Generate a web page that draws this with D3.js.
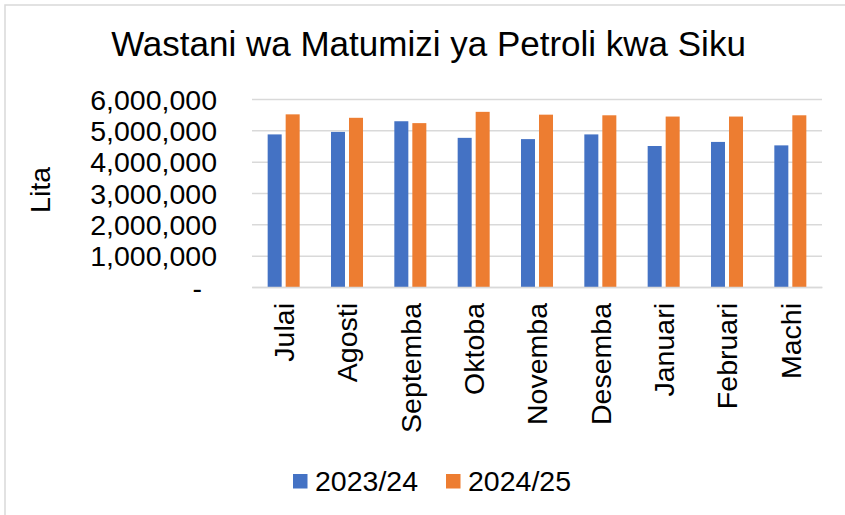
<!DOCTYPE html>
<html>
<head>
<meta charset="utf-8">
<script src="https://cdn.jsdelivr.net/npm/d3@7"></script>
<style>
  body { margin: 0; background: #fff; }
  svg { display: block; font-family: "Liberation Sans", Arial, sans-serif; }
</style>
</head>
<body>
<svg id="chart"></svg>
<script>
// data
var months = ["Julai", "Agosti", "Septemba", "Oktoba", "Novemba", "Desemba", "Januari", "Februari", "Machi"];
var seriesNames = ["2023/24", "2024/25"];
var values2023 = [4870000, 4950000, 5290000, 4760000, 4720000, 4870000, 4500000, 4630000, 4520000];
var values2024 = [5510000, 5400000, 5230000, 5590000, 5500000, 5480000, 5440000, 5440000, 5480000];
var yTicks = [0, 1000000, 2000000, 3000000, 4000000, 5000000, 6000000];

var colors = {"2023/24": "#4472C4", "2024/25": "#ED7D31"};

var width = 845, height = 515;
var plot = {left: 252, right: 822, top: 99, bottom: 287};

var svg = d3.select("#chart")
    .attr("width", width)
    .attr("height", height);

// chart area border (left + top, rest runs off the picture)
svg.append("path")
    .attr("d", "M5,515 L5,5 L845,5")
    .attr("fill", "none")
    .attr("stroke", "#d9d9d9")
    .attr("stroke-width", 1.5);

var x0 = d3.scaleBand()
    .domain(months)
    .range([plot.left, plot.right])
    .padding(0);

var x1 = d3.scaleBand()
    .domain(seriesNames)
    .range([0, x0.bandwidth()])
    .paddingInner(0.222)
    .paddingOuter(0.87);

var y = d3.scaleLinear()
    .domain([0, 6000000])
    .range([plot.bottom, plot.top]);

// title
svg.append("text")
    .attr("x", 428.5)
    .attr("y", 56)
    .attr("text-anchor", "middle")
    .attr("font-size", "35px")
    .attr("fill", "#000")
    .text("Wastani wa Matumizi ya Petroli kwa Siku");

// gridlines
var yAxis = d3.axisLeft(y)
    .tickValues(yTicks)
    .tickSize(-(plot.right - plot.left))
    .tickPadding(35)
    .tickFormat(function (d) {
        return d === 0 ? "-" : d3.format(",")(d);
    });

var gy = svg.append("g")
    .attr("transform", "translate(" + plot.left + ",0)")
    .call(yAxis);

gy.select(".domain").remove();
gy.selectAll(".tick line")
    .attr("stroke", "#d9d9d9")
    .attr("stroke-width", 1.5);
gy.selectAll(".tick text")
    .attr("font-size", "28.5px")
    .attr("fill", "#000")
    .attr("font-family", "Liberation Sans, Arial, sans-serif")
    .attr("dy", "0.36em")
    .attr("dx", function (d) { return d === 0 ? -15 : 0; });

// bars
var rows = months.map(function (m, i) {
    return {month: m, vals: [
        {name: seriesNames[0], value: values2023[i]},
        {name: seriesNames[1], value: values2024[i]}
    ]};
});

var groups = svg.selectAll(".grp")
    .data(rows)
    .enter()
    .append("g")
    .attr("class", "grp")
    .attr("transform", function (d) {
        return "translate(" + x0(d.month) + ",0)";
    });

groups.selectAll("rect")
    .data(function (d) { return d.vals; })
    .enter()
    .append("rect")
    .attr("x", function (d) { return x1(d.name); })
    .attr("y", function (d) { return y(d.value); })
    .attr("width", x1.bandwidth())
    .attr("height", function (d) { return y(0) - y(d.value); })
    .attr("fill", function (d) { return colors[d.name]; });

// x axis
var xAxis = d3.axisBottom(x0)
    .tickSize(0)
    .tickPadding(0);

var gx = svg.append("g")
    .attr("transform", "translate(0," + plot.bottom + ")")
    .call(xAxis);

gx.select(".domain")
    .attr("stroke", "#d9d9d9")
    .attr("stroke-width", 1.5);

gx.selectAll(".tick text")
    .attr("font-size", "28.5px")
    .attr("fill", "#000")
    .attr("font-family", "Liberation Sans, Arial, sans-serif")
    .attr("text-anchor", "end")
    .attr("transform", "rotate(-90)")
    .attr("x", -16)
    .attr("y", 0)
    .attr("dy", "0.36em");

// y axis title
svg.append("text")
    .attr("transform", "translate(50,190) rotate(-90)")
    .attr("text-anchor", "middle")
    .attr("font-size", "28.5px")
    .attr("fill", "#000")
    .text("Lita");

// legend
var legendPos = [{x: 293, tx: 315}, {x: 446, tx: 468}];
var legend = svg.selectAll(".legend")
    .data(seriesNames)
    .enter()
    .append("g")
    .attr("class", "legend");

legend.append("rect")
    .attr("x", function (d, i) { return legendPos[i].x; })
    .attr("y", 474)
    .attr("width", 14.5)
    .attr("height", 14.5)
    .attr("fill", function (d) { return colors[d]; });

legend.append("text")
    .attr("x", function (d, i) { return legendPos[i].tx; })
    .attr("y", 491)
    .attr("font-size", "28.5px")
    .attr("fill", "#000")
    .text(function (d) { return d; });
</script>
</body>
</html>
